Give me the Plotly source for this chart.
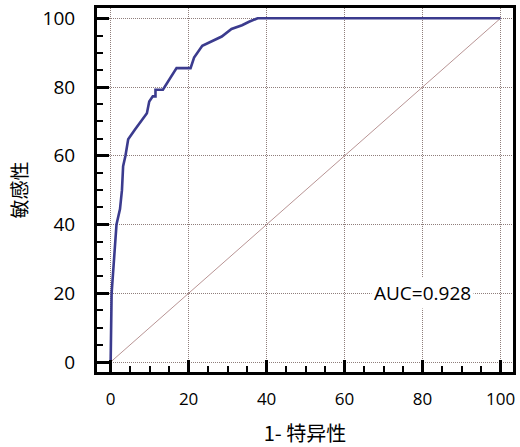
import plotly.graph_objects as go

# ROC curve points (1-specificity %, sensitivity %)
fpr = [0, 0.25, 1.5, 2.4, 2.9, 3.0, 3.2, 3.8, 4.3, 4.5, 6.2, 9.3, 9.9, 10.8, 11.5, 11.5,
       13.4, 16.9, 20.5, 20.9, 21.4, 23.5, 26.0, 28.5, 31.0, 33.7, 35.5, 37.7, 100]
tpr = [0, 20, 40, 44.5, 50, 53, 57, 60, 63, 64.8, 67.6, 72.4, 75.8, 77.3, 77.3, 79.2,
       79.2, 85.5, 85.5, 86.8, 88.6, 92.0, 93.3, 94.7, 96.9, 98.0, 99.0, 100, 100]
ref_x = [0, 100]
ref_y = [0, 100]
auc_text = "AUC=0.928"
x_title = "1- 特异性"
y_title = "敏感性"
tick_vals = [0, 20, 40, 60, 80, 100]

fig = go.Figure()
fig.add_trace(go.Scatter(x=ref_x, y=ref_y, mode="lines",
                         line=dict(color="#b89494", width=1), hoverinfo="skip"))
fig.add_trace(go.Scatter(x=fpr, y=tpr, mode="lines",
                         line=dict(color="#3b3b8e", width=2.6)))

fig.add_annotation(x=80, y=20, text=auc_text, showarrow=False,
                   font=dict(family="Open Sans", size=19, color="black"),
                   bgcolor="white", borderpad=2)

grid = dict(showgrid=True, gridcolor="#8f7e7b", griddash="1px,1px", gridwidth=1,
            zeroline=False, showline=True, linecolor="black", linewidth=3,
            mirror=True, ticks="inside", ticklen=12, tickwidth=3, tickcolor="black",
            tickvals=tick_vals,
            minor=dict(ticks="inside", ticklen=6, tickwidth=2, tickcolor="black",
                       dtick=5, showgrid=False))

fig.update_xaxes(range=[-3.5, 103.2], ticklabelstandoff=10,
                 tickfont=dict(family="Open Sans", size=17, color="black"),
                 title=dict(text=x_title, font=dict(family="Noto Sans CJK SC", size=20, color="black"),
                            standoff=18), **grid)
fig.update_yaxes(range=[-2.9, 103.0], ticklabelstandoff=15,
                 tickfont=dict(family="Open Sans", size=19, color="black"),
                 title=dict(text=y_title, font=dict(family="Noto Sans CJK SC", size=19, color="black"),
                            standoff=10), **grid)

fig.update_layout(width=520, height=447, showlegend=False,
                  plot_bgcolor="white", paper_bgcolor="white",
                  margin=dict(l=97, r=4, t=8, b=75))
fig.write_html("out.html", post_script="document.body.style.margin='0';",
               config={"displayModeBar": False})
